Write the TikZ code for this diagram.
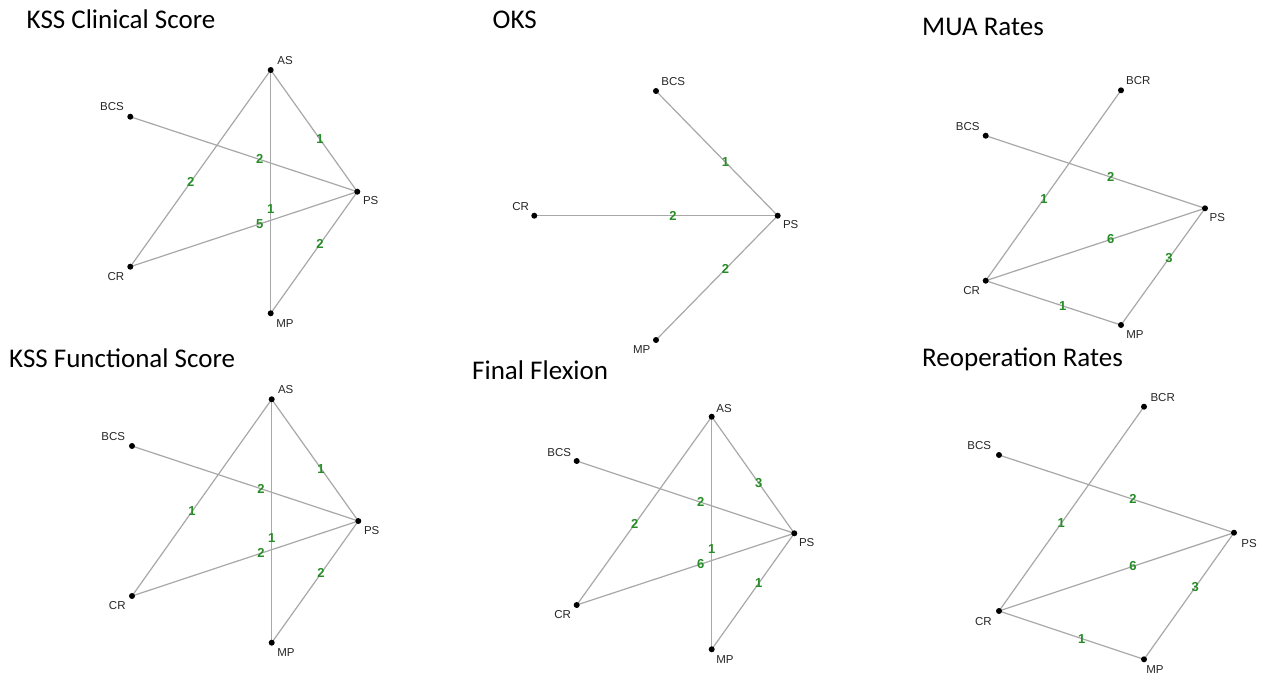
\documentclass[tikz,border=0pt]{standalone}
\usepackage{fontspec}
\setmainfont{Liberation Sans}
\newfontfamily\titlefont{Carlito}
\definecolor{edgegray}{RGB}{168,168,168}
\definecolor{labgreen}{RGB}{38,140,38}
\tikzset{
  edge/.style={draw=edgegray, line width=1.2pt},
  elab/.style={font=\fontsize{13}{13}\selectfont\bfseries, text=labgreen, inner sep=0pt, pos=0.57},
  nlab/.style={font=\fontsize{11.5}{11.5}\selectfont, text=black!85, inner sep=0pt},
  ptitle/.style={font=\titlefont\fontsize{27}{27}\selectfont, anchor=base west, inner sep=0pt},
  dotmark/.style={fill=black}
}
\begin{document}
\begin{tikzpicture}[x=1pt,y=-1pt]
\useasboundingbox[fill=white] (0,0) rectangle (1261,675);

% ---------- Panel 1: KSS Clinical Score ----------
\node[ptitle] (t1) at (26.5,28.3) {KSS Clinical Score};
\coordinate (aAS) at (270.7,70);
\coordinate (aBCS) at (130.3,116.7);
\coordinate (aPS) at (357.3,191.7);
\coordinate (aCR) at (130.3,266.7);
\coordinate (aMP) at (270.7,313.3);
\draw[edge] (aAS) -- node[elab]{1} (aPS);
\draw[edge] (aBCS) -- node[elab]{2} (aPS);
\draw[edge] (aAS) -- node[elab]{2} (aCR);
\draw[edge] (aAS) -- node[elab]{1} (aMP);
\draw[edge] (aCR) -- node[elab]{5} (aPS);
\draw[edge] (aMP) -- node[elab]{2} (aPS);
\foreach \n in {aAS,aBCS,aPS,aCR,aMP} \fill[dotmark] (\n) circle (3pt);
\node[nlab] (aASl) at (285,61) {AS};
\node[nlab] (aBCSl) at (112,107) {BCS};
\node[nlab] (aPSl) at (370.7,201) {PS};
\node[nlab] (aCRl) at (116,276.7) {CR};
\node[nlab] (aMPl) at (285,323.3) {MP};

% ---------- Panel 2: OKS ----------
\node[ptitle] (t2) at (492.5,28.3) {OKS};
\coordinate (bBCS) at (656,91);
\coordinate (bPS) at (777.7,215.7);
\coordinate (bCR) at (534.3,215.7);
\coordinate (bMP) at (656,340);
\draw[edge] (bBCS) -- node[elab]{1} (bPS);
\draw[edge] (bCR) -- node[elab]{2} (bPS);
\draw[edge] (bMP) -- node[elab]{2} (bPS);
\foreach \n in {bBCS,bPS,bCR,bMP} \fill[dotmark] (\n) circle (3pt);
\node[nlab] (bBCSl) at (673.3,81.7) {BCS};
\node[nlab] (bPSl) at (790.7,225) {PS};
\node[nlab] (bCRl) at (520.7,206.7) {CR};
\node[nlab] (bMPl) at (641.7,349.3) {MP};

% ---------- Panel 3: MUA Rates ----------
\node[ptitle] (t3) at (922,35) {MUA Rates};
\coordinate (cBCR) at (1121,90.3);
\coordinate (cBCS) at (985.7,135.7);
\coordinate (cPS) at (1205,208.3);
\coordinate (cCR) at (985.7,280.7);
\coordinate (cMP) at (1121,325);
\draw[edge] (cBCR) -- node[elab]{1} (cCR);
\draw[edge] (cBCS) -- node[elab]{2} (cPS);
\draw[edge] (cCR) -- node[elab]{6} (cPS);
\draw[edge] (cMP) -- node[elab]{3} (cPS);
\draw[edge] (cCR) -- node[elab]{1} (cMP);
\foreach \n in {cBCR,cBCS,cPS,cCR,cMP} \fill[dotmark] (\n) circle (3pt);
\node[nlab] (cBCRl) at (1138.3,81) {BCR};
\node[nlab] (cBCSl) at (967.7,126.7) {BCS};
\node[nlab] (cPSl) at (1217.3,217.7) {PS};
\node[nlab] (cCRl) at (971.7,290.7) {CR};
\node[nlab] (cMPl) at (1135,334.3) {MP};

% ---------- Panel 4: KSS Functional Score ----------
\node[ptitle] (t4) at (9,367.7) {KSS Functional Score};
\coordinate (dAS) at (271.7,399.3);
\coordinate (dBCS) at (132,446);
\coordinate (dPS) at (358.3,521);
\coordinate (dCR) at (132,596);
\coordinate (dMP) at (271.7,642.7);
\draw[edge] (dAS) -- node[elab]{1} (dPS);
\draw[edge] (dBCS) -- node[elab]{2} (dPS);
\draw[edge] (dAS) -- node[elab]{1} (dCR);
\draw[edge] (dAS) -- node[elab]{1} (dMP);
\draw[edge] (dCR) -- node[elab]{2} (dPS);
\draw[edge] (dMP) -- node[elab]{2} (dPS);
\foreach \n in {dAS,dBCS,dPS,dCR,dMP} \fill[dotmark] (\n) circle (3pt);
\node[nlab] (dASl) at (285.7,390) {AS};
\node[nlab] (dBCSl) at (113.3,436.7) {BCS};
\node[nlab] (dPSl) at (371.7,530.7) {PS};
\node[nlab] (dCRl) at (117.3,606) {CR};
\node[nlab] (dMPl) at (286,652.7) {MP};

% ---------- Panel 5: Final Flexion ----------
\node[ptitle] (t5) at (472,379.3) {Final Flexion};
\coordinate (eAS) at (711.7,416.7);
\coordinate (eBCS) at (576.7,461);
\coordinate (ePS) at (794.3,533.3);
\coordinate (eCR) at (576.7,605);
\coordinate (eMP) at (711.7,649.3);
\draw[edge] (eAS) -- node[elab]{3} (ePS);
\draw[edge] (eBCS) -- node[elab]{2} (ePS);
\draw[edge] (eAS) -- node[elab]{2} (eCR);
\draw[edge] (eAS) -- node[elab]{1} (eMP);
\draw[edge] (eCR) -- node[elab]{6} (ePS);
\draw[edge] (eMP) -- node[elab]{1} (ePS);
\foreach \n in {eAS,eBCS,ePS,eCR,eMP} \fill[dotmark] (\n) circle (3pt);
\node[nlab] (eASl) at (724,408.3) {AS};
\node[nlab] (eBCSl) at (559.3,452.3) {BCS};
\node[nlab] (ePSl) at (806.7,542.3) {PS};
\node[nlab] (eCRl) at (562.7,614.3) {CR};
\node[nlab] (eMPl) at (725,659.3) {MP};

% ---------- Panel 6: Reoperation Rates ----------
\node[ptitle] (t6) at (922,366) {Reoperation Rates};
\coordinate (fBCR) at (1144,406.7);
\coordinate (fBCS) at (999,455);
\coordinate (fPS) at (1234,532.7);
\coordinate (fCR) at (999,611);
\coordinate (fMP) at (1144,659.3);
\draw[edge] (fBCR) -- node[elab]{1} (fCR);
\draw[edge] (fBCS) -- node[elab]{2} (fPS);
\draw[edge] (fCR) -- node[elab]{6} (fPS);
\draw[edge] (fMP) -- node[elab]{3} (fPS);
\draw[edge] (fCR) -- node[elab]{1} (fMP);
\foreach \n in {fBCR,fBCS,fPS,fCR,fMP} \fill[dotmark] (\n) circle (3pt);
\node[nlab] (fBCRl) at (1162.7,397.3) {BCR};
\node[nlab] (fBCSl) at (979.3,445.3) {BCS};
\node[nlab] (fPSl) at (1249,543.3) {PS};
\node[nlab] (fCRl) at (983.3,621.7) {CR};
\node[nlab] (fMPl) at (1155,670) {MP};
\end{tikzpicture}
\end{document}
